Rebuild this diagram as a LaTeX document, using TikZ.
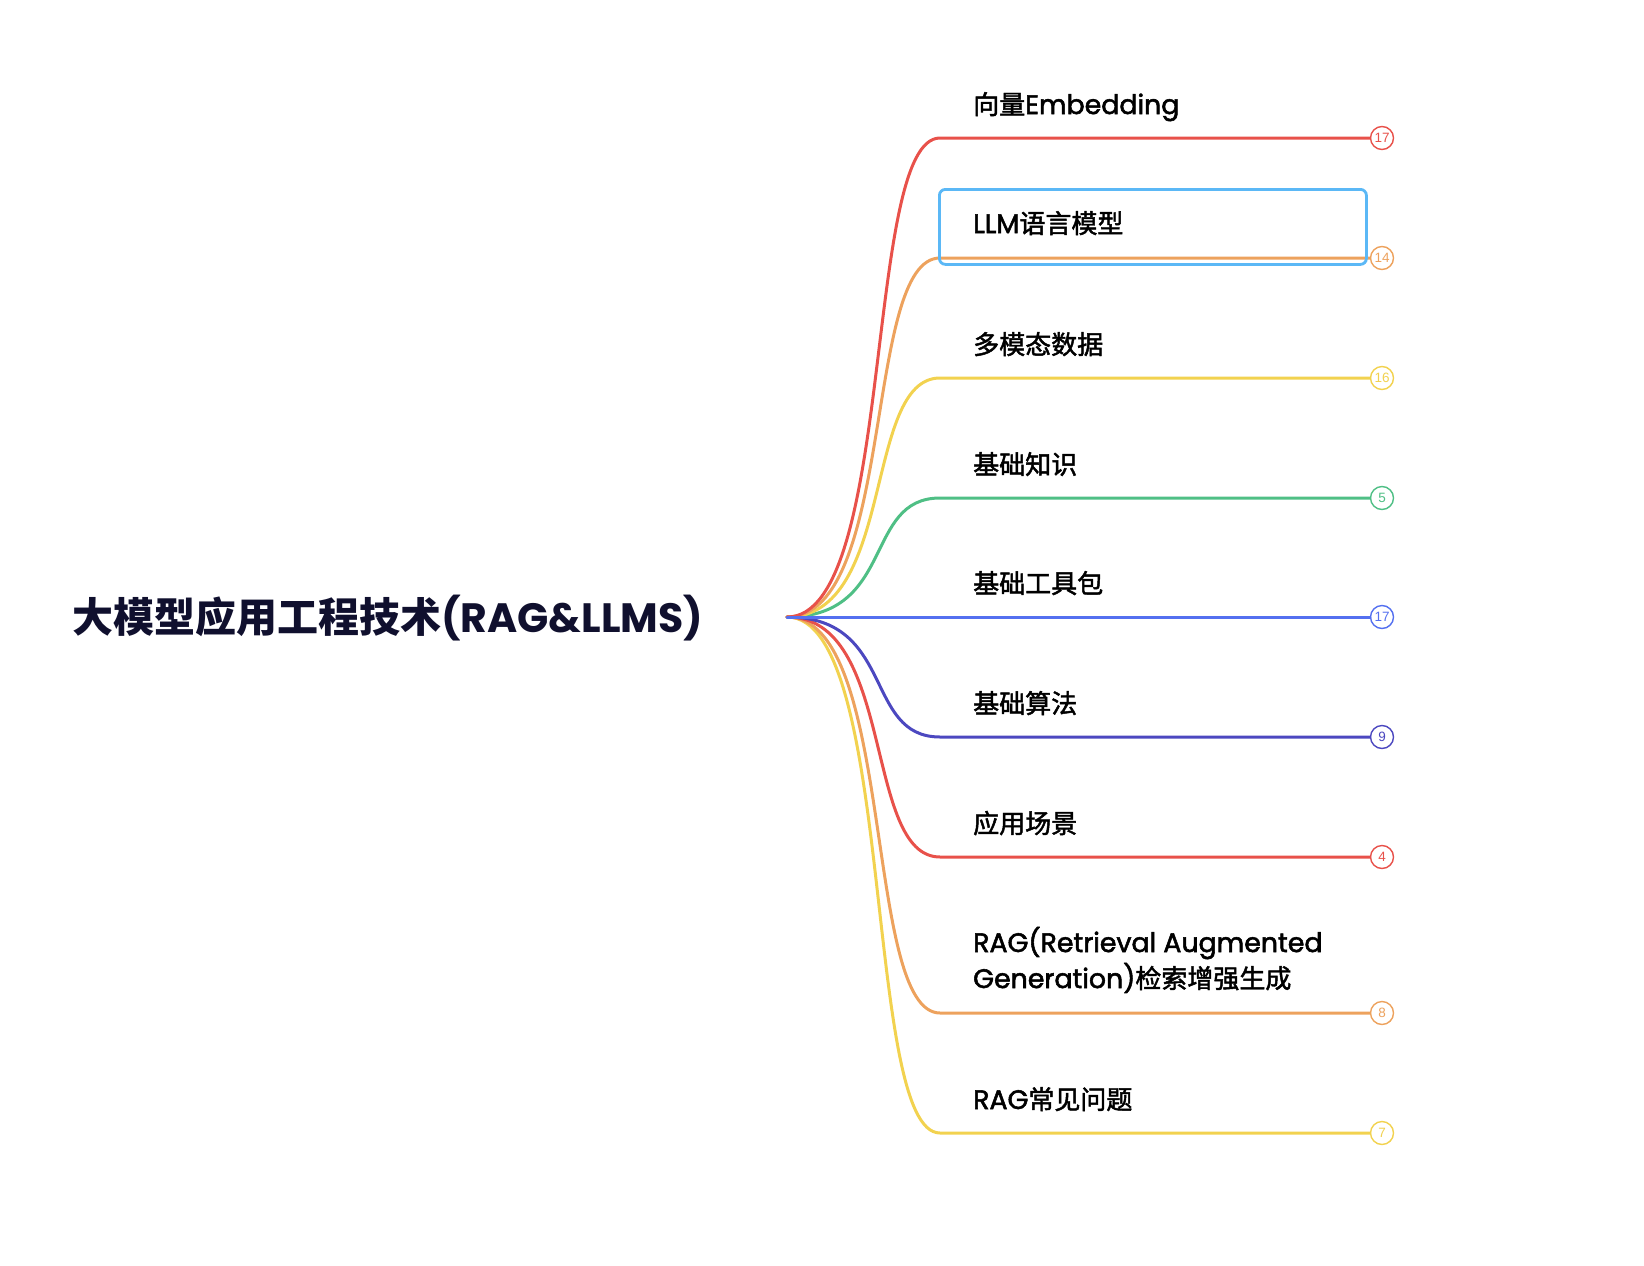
\documentclass[tikz,border=0pt]{standalone}
\usepackage{fontspec}
\setmainfont{Poppins}
\newfontfamily\labfont{Poppins}[RawFeature={embolden=2}]
\newfontfamily\cjk{Noto Sans CJK SC}[RawFeature={embolden=1.8}]
\newfontfamily\cjkb{Noto Sans CJK SC}
\newfontfamily\numfont{Liberation Sans}
\newcommand{\zh}[1]{{\cjk\fontsize{26}{36}\selectfont #1}}
\definecolor{cred}{HTML}{E8514A}
\definecolor{corange}{HTML}{EDA25D}
\definecolor{cyellow}{HTML}{F2D24F}
\definecolor{cgreen}{HTML}{4FBF85}
\definecolor{cblue}{HTML}{5470F0}
\definecolor{cindigo}{HTML}{4C48C0}
\definecolor{cbox}{HTML}{5BB8F6}
\definecolor{ctitle}{HTML}{10102E}
\tikzset{
  branch/.style={line width=3pt, line cap=round},
  badge/.style={circle, draw, line width=1.4pt, minimum size=23pt, inner sep=0pt, fill=white, font=\numfont\fontsize{13.5}{13.5}\selectfont},
  lab/.style={anchor=base west, inner sep=0pt, font=\labfont\fontsize{26.8}{36}\selectfont, text=black, align=left},
}
\begin{document}
\begin{tikzpicture}[x=1pt,y=-1pt]
\useasboundingbox (0,0) rectangle (1644,1266);
\node[anchor=west, inner sep=0pt, text=ctitle, font=\bfseries\fontsize{41}{41}\selectfont] (title) at (72,618) {{\cjkb\bfseries 大模型应用工程技术}(RAG\&LLMS)};
\coordinate (root) at (787,617);
% badges
\node[badge, draw=cred, text=cred] (c1) at (1382,138) {17};
\node[badge, draw=corange, text=corange] (c2) at (1382,258) {14};
\node[badge, draw=cyellow, text=cyellow] (c3) at (1382,378) {16};
\node[badge, draw=cgreen, text=cgreen] (c4) at (1382,498) {5};
\node[badge, draw=cblue, text=cblue] (c5) at (1382,617) {17};
\node[badge, draw=cindigo, text=cindigo] (c6) at (1382,737) {9};
\node[badge, draw=cred, text=cred] (c7) at (1382,857) {4};
\node[badge, draw=corange, text=corange] (c8) at (1382,1013) {8};
\node[badge, draw=cyellow, text=cyellow] (c9) at (1382,1133) {7};
% knees
\coordinate (k1) at (940,138);
\coordinate (k2) at (940,258);
\coordinate (k3) at (940,378);
\coordinate (k4) at (940,498);
\coordinate (k6) at (940,737);
\coordinate (k7) at (940,857);
\coordinate (k8) at (940,1013);
\coordinate (k9) at (940,1133);
% branches
\draw[branch, cyellow] (root) .. controls (896,617) and (863,1133) .. (k9) -- (c9.west);
\draw[branch, corange] (root) .. controls (896,617) and (863,1013) .. (k8) -- (c8.west);
\draw[branch, cred] (root) .. controls (896,617) and (863,857) .. (k7) -- (c7.west);
\draw[branch, cindigo] (root) .. controls (896,617) and (863,737) .. (k6) -- (c6.west);
\draw[branch, cgreen] (root) .. controls (896,617) and (863,498) .. (k4) -- (c4.west);
\draw[branch, cyellow] (root) .. controls (896,617) and (863,378) .. (k3) -- (c3.west);
\draw[branch, corange] (root) .. controls (896,617) and (863,258) .. (k2) -- (c2.west);
\draw[branch, cred] (root) .. controls (896,617) and (863,138) .. (k1) -- (c1.west);
\draw[branch, cblue] (root) -- (c5.west);
% labels
\node[lab] (l1) at (973,114) {\zh{向量}Embedding};
\node[lab] (l2) at (973,233) {LLM\zh{语言模型}};
\node[lab] (l3) at (973,354) {\zh{多模态数据}};
\node[lab] (l4) at (973,474) {\zh{基础知识}};
\node[lab] (l5) at (973,593) {\zh{基础工具包}};
\node[lab] (l6) at (973,713) {\zh{基础算法}};
\node[lab] (l7) at (973,833) {\zh{应用场景}};
\node[lab] (l8) at (973,988) {RAG(Retrieval Augmented\\Generation)\zh{检索增强生成}};
\node[lab] (l9) at (973,1109) {RAG\zh{常见问题}};
% selection box
\node[draw=cbox, line width=2.8pt, rounded corners=6pt, inner sep=0pt, minimum width=427pt, minimum height=75pt, anchor=north west] (sel) at (938,188) {};
\end{tikzpicture}
\end{document}
